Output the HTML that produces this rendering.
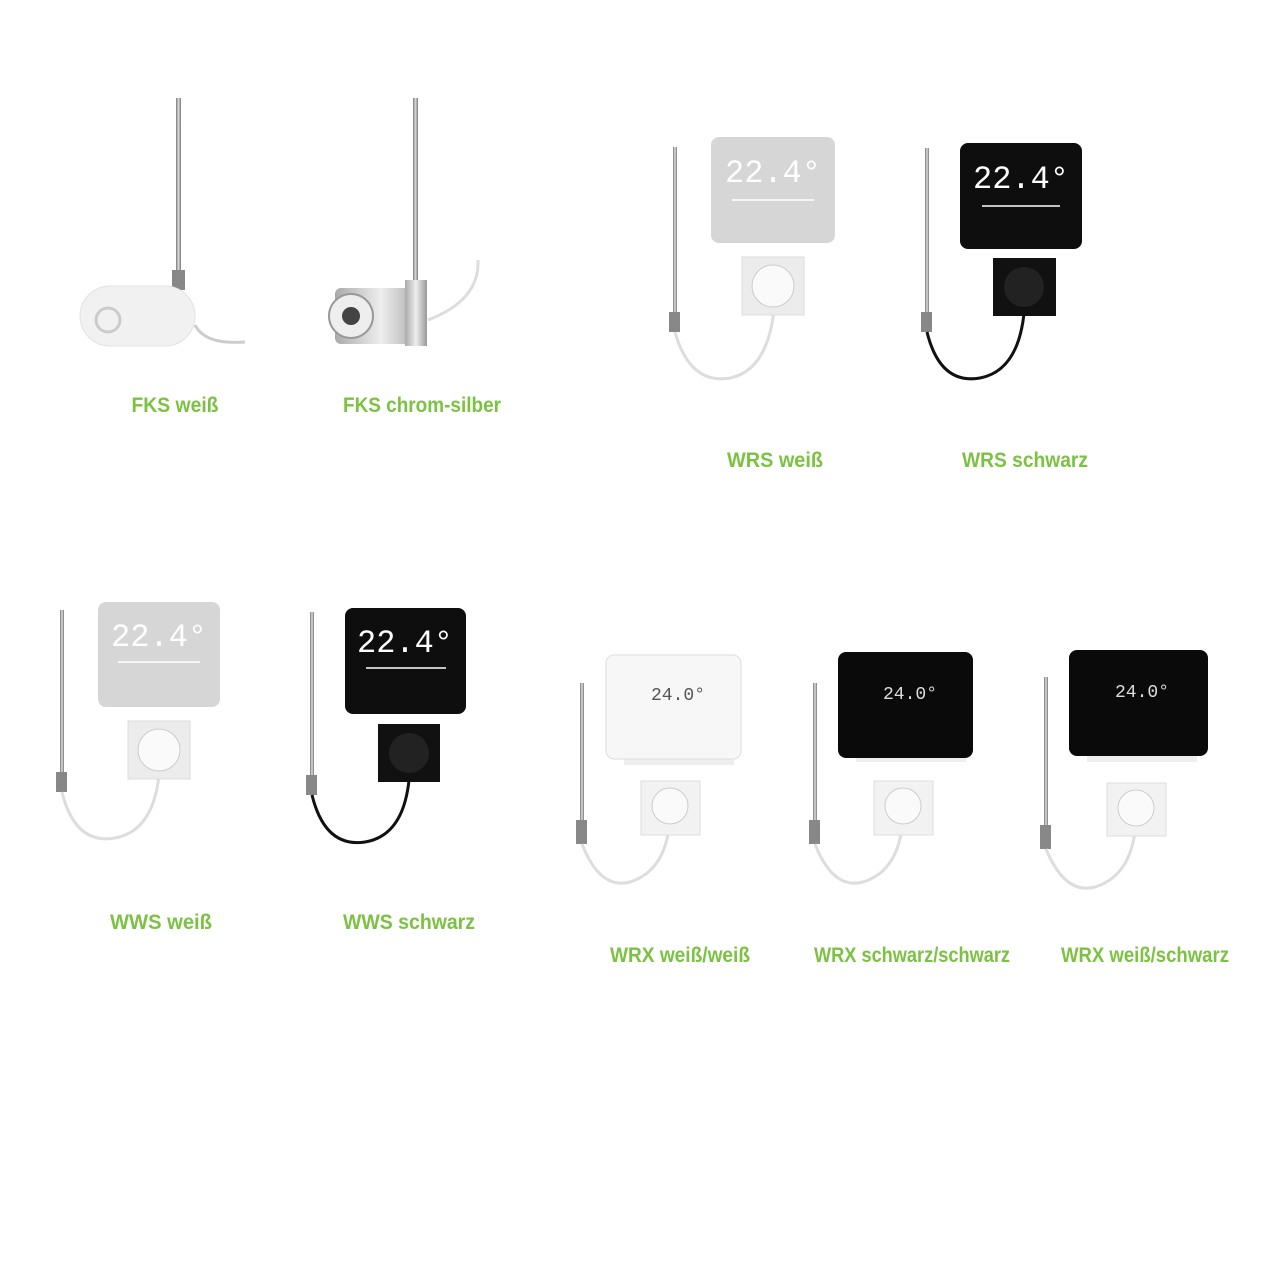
<!DOCTYPE html>
<html><head><meta charset="utf-8"><style>
html,body{margin:0;padding:0;background:#fff}
svg{display:block}
text{font-family:"Liberation Sans Narrow","Liberation Sans",sans-serif;font-weight:bold;font-size:21px;fill:#7cc242;text-anchor:middle}
.d{font-family:"Liberation Mono",monospace;font-weight:normal;text-anchor:middle}
</style></head><body>
<svg width="1280" height="1280" viewBox="0 0 1280 1280">
<defs>
<linearGradient id="rod" x1="0" x2="1"><stop offset="0" stop-color="#777"/><stop offset=".5" stop-color="#ddd"/><stop offset="1" stop-color="#777"/></linearGradient>
<linearGradient id="chr" x1="0" x2="1"><stop offset="0" stop-color="#aaa"/><stop offset=".5" stop-color="#eee"/><stop offset="1" stop-color="#999"/></linearGradient>
</defs>

<!-- FKS weiß -->
<rect x="176" y="98" width="5" height="190" fill="url(#rod)"/>
<rect x="172" y="270" width="13" height="20" fill="#888"/>
<path d="M195 325 Q205 345 245 342" stroke="#ccc" stroke-width="3" fill="none"/>
<rect x="80" y="286" width="115" height="60" rx="30" fill="#f1f1f1" stroke="#e2e2e2"/>
<circle cx="108" cy="320" r="12" fill="none" stroke="#ccc" stroke-width="3"/>
<!-- FKS chrom -->
<rect x="413" y="98" width="5" height="190" fill="url(#rod)"/>
<path d="M428 320 Q480 300 478 260" stroke="#ddd" stroke-width="3" fill="none"/>
<rect x="335" y="288" width="92" height="56" rx="6" fill="url(#chr)"/>
<rect x="405" y="280" width="22" height="66" fill="url(#chr)"/>
<circle cx="351" cy="316" r="22" fill="#eee" stroke="#999" stroke-width="2"/>
<circle cx="351" cy="316" r="9" fill="#444"/>
<text x="175" y="412" textLength="87" lengthAdjust="spacingAndGlyphs">FKS weiß</text>
<text x="422" y="412" textLength="158" lengthAdjust="spacingAndGlyphs">FKS chrom-silber</text>

<!-- WRS weiß -->
<rect x="673" y="147" width="4" height="175" fill="url(#rod)"/>
<rect x="669" y="312" width="11" height="20" fill="#888"/>
<path d="M675 332 Q690 385 730 378 Q770 370 775 300" stroke="#ddd" stroke-width="3" fill="none"/>
<rect x="711" y="137" width="124" height="106" rx="8" fill="#d6d6d6"/>
<text class="d" x="773" y="182" style="font-size:32px;fill:#fff">22.4°</text>
<line x1="732" y1="200" x2="814" y2="200" stroke="#fff" stroke-width="1.5"/>
<rect x="742" y="257" width="62" height="58" fill="#ececec" stroke="#ddd"/>
<circle cx="773" cy="286" r="21" fill="#fafafa" stroke="#ccc"/>
<!-- WRS schwarz -->
<rect x="925" y="148" width="4" height="175" fill="url(#rod)"/>
<rect x="921" y="312" width="11" height="20" fill="#888"/>
<path d="M927 332 Q940 385 980 378 Q1022 370 1025 300" stroke="#111" stroke-width="3" fill="none"/>
<rect x="960" y="143" width="122" height="106" rx="8" fill="#0e0e0e"/>
<text class="d" x="1021" y="188" style="font-size:32px;fill:#fff">22.4°</text>
<line x1="982" y1="206" x2="1060" y2="206" stroke="#fff" stroke-width="1.5"/>
<rect x="993" y="258" width="63" height="58" fill="#111"/>
<circle cx="1024" cy="287" r="20" fill="#222"/>
<text x="775" y="467" textLength="96" lengthAdjust="spacingAndGlyphs">WRS weiß</text>
<text x="1025" y="467" textLength="126" lengthAdjust="spacingAndGlyphs">WRS schwarz</text>

<!-- WWS weiß -->
<rect x="60" y="610" width="4" height="175" fill="url(#rod)"/>
<rect x="56" y="772" width="11" height="20" fill="#888"/>
<path d="M62 792 Q75 845 115 838 Q158 830 160 760" stroke="#ddd" stroke-width="3" fill="none"/>
<rect x="98" y="602" width="122" height="105" rx="8" fill="#d6d6d6"/>
<text class="d" x="159" y="646" style="font-size:32px;fill:#fff">22.4°</text>
<line x1="118" y1="662" x2="200" y2="662" stroke="#fff" stroke-width="1.5"/>
<rect x="128" y="721" width="62" height="58" fill="#ececec" stroke="#ddd"/>
<circle cx="159" cy="750" r="21" fill="#fafafa" stroke="#ccc"/>
<!-- WWS schwarz -->
<rect x="310" y="612" width="4" height="175" fill="url(#rod)"/>
<rect x="306" y="775" width="11" height="20" fill="#888"/>
<path d="M312 795 Q325 848 365 842 Q408 835 410 765" stroke="#111" stroke-width="3" fill="none"/>
<rect x="345" y="608" width="121" height="106" rx="8" fill="#0e0e0e"/>
<text class="d" x="405" y="652" style="font-size:32px;fill:#fff">22.4°</text>
<line x1="366" y1="668" x2="446" y2="668" stroke="#fff" stroke-width="1.5"/>
<rect x="378" y="724" width="62" height="58" fill="#111"/>
<circle cx="409" cy="753" r="20" fill="#222"/>
<text x="161" y="929" textLength="102" lengthAdjust="spacingAndGlyphs">WWS weiß</text>
<text x="409" y="929" textLength="132" lengthAdjust="spacingAndGlyphs">WWS schwarz</text>

<!-- WRX weiß/weiß -->
<rect x="580" y="683" width="4" height="150" fill="url(#rod)"/>
<rect x="576" y="820" width="11" height="24" fill="#888"/>
<path d="M582 844 Q600 890 630 882 Q668 870 670 815" stroke="#ddd" stroke-width="3" fill="none"/>
<rect x="624" y="755" width="110" height="10" fill="#eee"/>
<rect x="606" y="655" width="135" height="104" rx="8" fill="#f7f7f7" stroke="#ddd"/>
<text class="d" x="678" y="700" style="font-size:18px;fill:#555">24.0°</text>
<rect x="641" y="781" width="59" height="54" fill="#f2f2f2" stroke="#ddd"/>
<circle cx="670" cy="806" r="18" fill="#fafafa" stroke="#ccc"/>
<!-- WRX schwarz/schwarz -->
<rect x="813" y="683" width="4" height="150" fill="url(#rod)"/>
<rect x="809" y="820" width="11" height="24" fill="#888"/>
<path d="M815 844 Q833 890 863 882 Q901 870 903 815" stroke="#ddd" stroke-width="3" fill="none"/>
<rect x="856" y="752" width="110" height="10" fill="#eee"/>
<rect x="838" y="652" width="135" height="106" rx="8" fill="#0a0a0a"/>
<text class="d" x="910" y="699" style="font-size:18px;fill:#ddd">24.0°</text>
<rect x="874" y="781" width="59" height="54" fill="#f2f2f2" stroke="#ddd"/>
<circle cx="903" cy="806" r="18" fill="#fafafa" stroke="#ccc"/>
<!-- WRX weiß/schwarz -->
<rect x="1044" y="677" width="4" height="160" fill="url(#rod)"/>
<rect x="1040" y="825" width="11" height="24" fill="#888"/>
<path d="M1046 849 Q1065 895 1095 887 Q1134 875 1136 818" stroke="#ddd" stroke-width="3" fill="none"/>
<rect x="1087" y="752" width="110" height="10" fill="#eee"/>
<rect x="1069" y="650" width="139" height="106" rx="8" fill="#0a0a0a"/>
<text class="d" x="1142" y="697" style="font-size:18px;fill:#ddd">24.0°</text>
<rect x="1107" y="783" width="59" height="53" fill="#f2f2f2" stroke="#ddd"/>
<circle cx="1136" cy="808" r="18" fill="#fafafa" stroke="#ccc"/>
<text x="680" y="962" textLength="140" lengthAdjust="spacingAndGlyphs">WRX weiß/weiß</text>
<text x="912" y="962" textLength="196" lengthAdjust="spacingAndGlyphs">WRX schwarz/schwarz</text>
<text x="1145" y="962" textLength="168" lengthAdjust="spacingAndGlyphs">WRX weiß/schwarz</text>
</svg>
</body></html>
